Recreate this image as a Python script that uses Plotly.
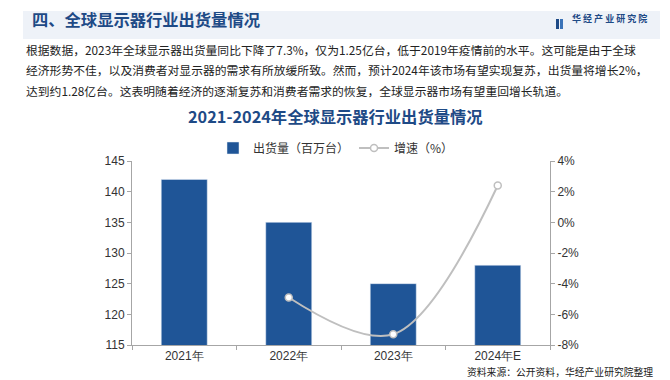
import plotly.graph_objects as go

W, H = 670, 380
categories = ["2021年", "2022年", "2023年", "2024年E"]
shipments = [142, 135, 125, 128]          # 百万台
growth_cats = ["2022年", "2023年", "2024年E"]
growth = [-4.9, -7.3, 2.4]                # %
left_ticks = [115, 120, 125, 130, 135, 140, 145]
right_ticks = [-8, -6, -4, -2, 0, 2, 4]
right_tick_labels = [f"{v}%" for v in right_ticks]

header_title = "四、全球显示器行业出货量情况"
para_lines = [
    "根据数据，2023年全球显示器出货量同比下降了7.3%，仅为1.25亿台，低于2019年疫情前的水平。这可能是由于全球",
    "经济形势不佳，以及消费者对显示器的需求有所放缓所致。然而，预计2024年该市场有望实现复苏，出货量将增长2%，",
    "达到约1.28亿台。这表明随着经济的逐渐复苏和消费者需求的恢复，全球显示器市场有望重回增长轨道。",
]
chart_title = "2021-2024年全球显示器行业出货量情况"
source_text = "资料来源：公开资料，华经产业研究院整理"
logo_text = "华 经 产 业 研 究 院"

BLUE = "#1f5597"
DARK_BLUE = "#1e4a86"
GREY = "#bfbfbf"
FONT = "Noto Sans CJK SC"


def px(x):
    return x / W


def py(y):
    return 1 - y / H


fig = go.Figure()
fig.add_trace(go.Bar(
    x=categories, y=shipments, name="出货量（百万台）",
    marker=dict(color=BLUE), width=0.44, yaxis="y",
))
fig.add_trace(go.Scatter(
    x=growth_cats, y=growth, name="增速（%）", yaxis="y2",
    mode="lines+markers",
    line=dict(color=GREY, width=2, shape="spline", smoothing=1.0),
    marker=dict(symbol="circle", size=7, color="white", line=dict(color=GREY, width=1.5)),
))

x0, x1 = 124, 542
y_top, y_bot = 153, 337

annotations = [
    dict(x=px(22), y=py(11), xref="paper", yref="paper", text=f"<b>{header_title}</b>",
         showarrow=False, xanchor="left", yanchor="middle",
         font=dict(family=FONT, size=16.3, color=DARK_BLUE)),
    dict(x=px(562), y=py(11), xref="paper", yref="paper", text=f"<b>{logo_text}</b>",
         showarrow=False, xanchor="left", yanchor="middle",
         font=dict(family=FONT, size=9, color=DARK_BLUE)),
    dict(x=px(327), y=py(108), xref="paper", yref="paper", text=f"<b>{chart_title}</b>",
         showarrow=False, xanchor="center", yanchor="middle",
         font=dict(family=FONT, size=16.3, color=DARK_BLUE)),
    dict(x=px(647), y=py(364), xref="paper", yref="paper", text=source_text,
         showarrow=False, xanchor="right", yanchor="middle",
         font=dict(family=FONT, size=9.8, color="#222")),
]
for i, line in enumerate(para_lines):
    annotations.append(dict(
        x=px(16), y=py(41 + i * 20.5), xref="paper", yref="paper", text=line,
        showarrow=False, xanchor="left", yanchor="middle",
        font=dict(family=FONT, size=11.8, color="#222")))

shapes = [
    dict(type="rect", xref="paper", yref="paper", x0=px(15), x1=px(652), y0=py(31), y1=py(3),
         fillcolor="#eef2f8", line=dict(width=0), layer="below"),
    dict(type="rect", xref="paper", yref="paper", x0=px(548), x1=px(551), y0=py(21), y1=py(11),
         fillcolor=DARK_BLUE, line=dict(width=0)),
    dict(type="rect", xref="paper", yref="paper", x0=px(552), x1=px(555), y0=py(21), y1=py(11),
         fillcolor="#3a73b8", line=dict(width=0)),
]

tick_font = dict(family="Liberation Sans, Arial", size=12, color="#333")
fig.update_layout(
    width=W, height=H,
    margin=dict(l=0, r=0, t=0, b=0),
    paper_bgcolor="white", plot_bgcolor="white",
    showlegend=True,
    legend=dict(orientation="h", x=px(205), y=py(140), xanchor="left", yanchor="middle",
                font=dict(family=FONT, size=12, color="#333"), bgcolor="rgba(0,0,0,0)",
                itemwidth=30, tracegroupgap=0),
    xaxis=dict(domain=[px(x0), px(x1)], type="category", categoryorder="array",
               categoryarray=categories, showline=True, linecolor="#a6a6a6", linewidth=1,
               ticks="outside", ticklen=4, tickcolor="#a6a6a6", tickson="boundaries",
               tickfont=tick_font, showgrid=False, automargin=False),
    yaxis=dict(domain=[py(y_bot), py(y_top)], range=[115, 145], tickvals=left_ticks,
               showline=True, linecolor="#a6a6a6", linewidth=1, ticks="outside", ticklen=4,
               tickcolor="#a6a6a6", tickfont=tick_font, showgrid=False, zeroline=False,
               automargin=False),
    yaxis2=dict(overlaying="y", side="right", anchor="x", range=[-8, 4], tickvals=right_ticks,
                ticktext=right_tick_labels, showline=True, linecolor="#a6a6a6", linewidth=1,
                ticks="outside", ticklen=4, tickcolor="#a6a6a6", tickfont=tick_font,
                showgrid=False, zeroline=False, automargin=False),
    annotations=annotations,
    shapes=shapes,
    bargap=0.56,
)

fig.write_html("out.html")
